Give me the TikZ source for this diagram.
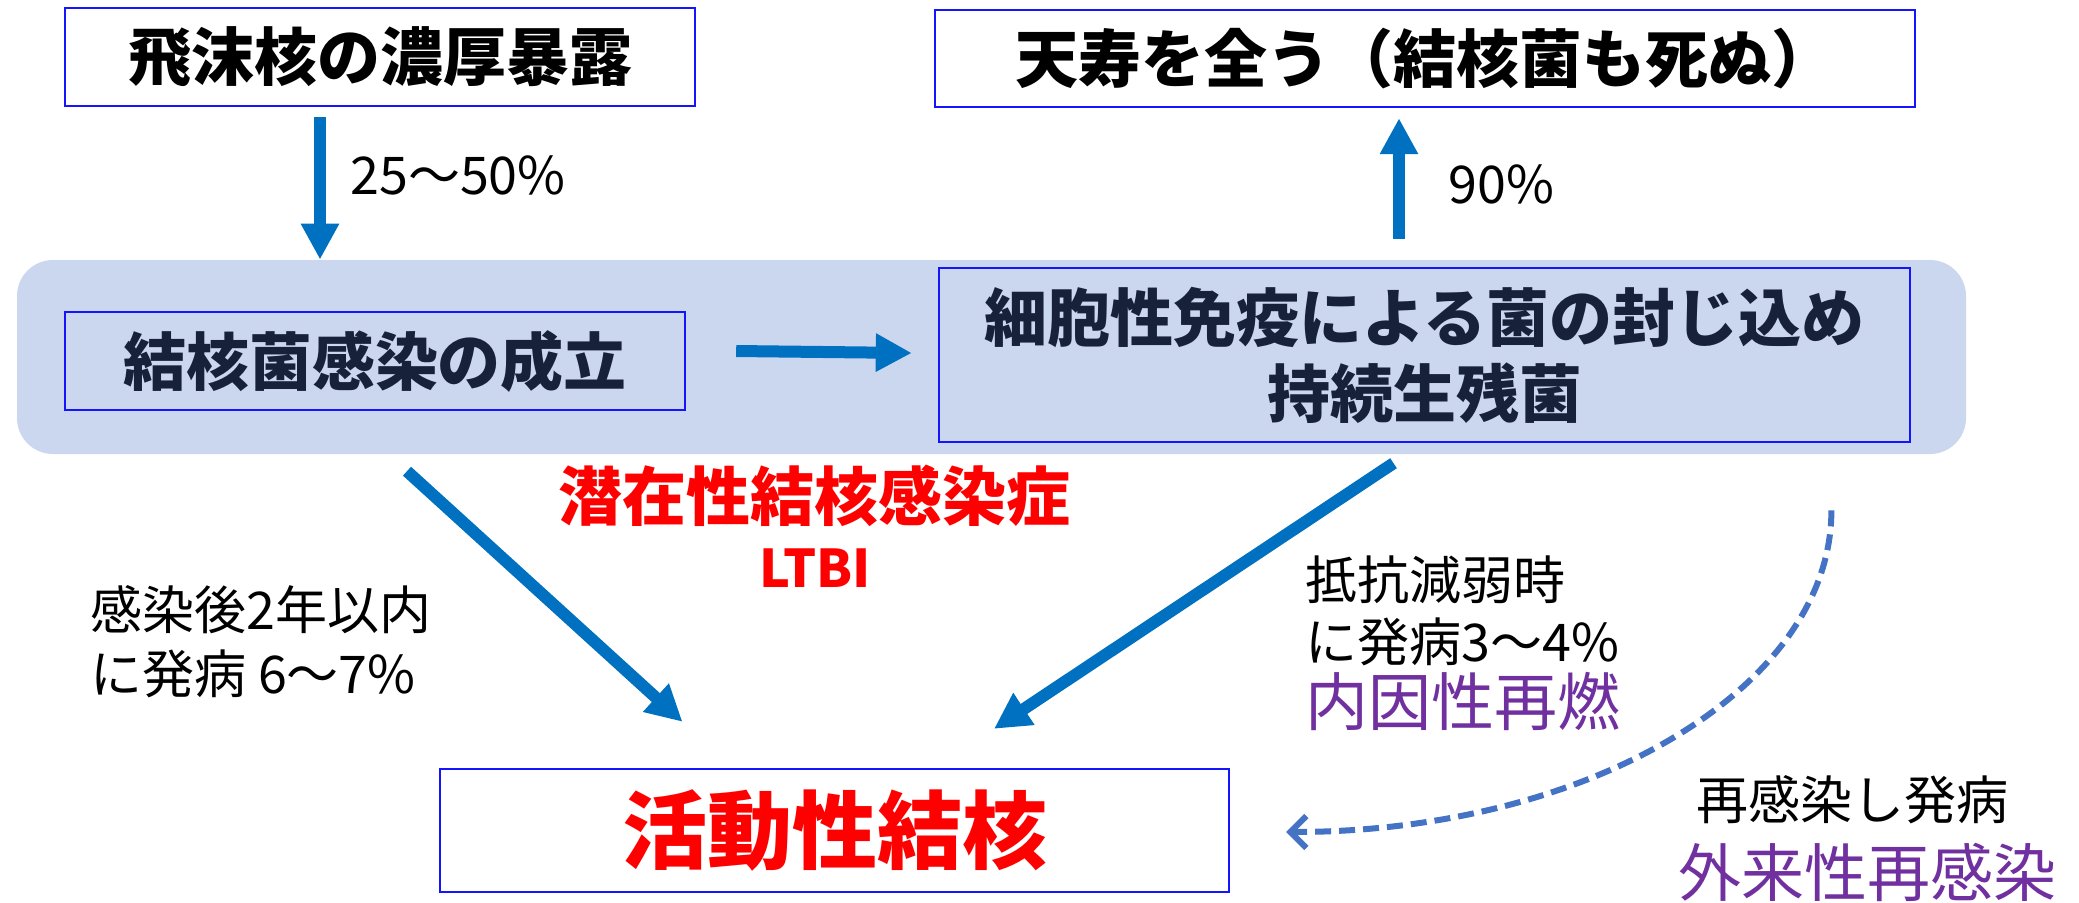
\documentclass[tikz,border=0pt]{standalone}
\usepackage{fontspec}
\setmainfont{Noto Sans CJK JP}
\usetikzlibrary{arrows.meta,calc}
\definecolor{boxblue}{HTML}{1414FF}
\definecolor{bandfill}{HTML}{CBD7EE}
\definecolor{arrblue}{HTML}{0070C0}
\definecolor{dashblue}{HTML}{4472C4}
\definecolor{navytext}{HTML}{18213A}
\definecolor{redtext}{HTML}{FF0000}
\definecolor{purpletext}{HTML}{7030A0}
\tikzset{
  flowbox/.style={draw=boxblue, line width=1.2pt, inner sep=0pt, align=center,
    font=\fontsize{31.5pt}{38pt}\selectfont\bfseries},
  lbl/.style={inner sep=0pt, align=left, font=\fontsize{26pt}{32pt}\selectfont},
  bigarr/.style={draw=arrblue, line width=6pt, -{Triangle[length=18pt,width=18pt]}},
  dasharr/.style={draw=dashblue, line width=3pt, dash pattern=on 8pt off 4pt,
    -{Straight Barb[length=8pt,width=16pt,line width=3pt]}},
}
\begin{document}
\begin{tikzpicture}[x=0.5pt,y=-0.5pt]
\useasboundingbox (0,0) rectangle (2079,902);
% band
\node[fill=bandfill, rounded corners=18pt, minimum width=974.5pt, minimum height=97pt, inner sep=0pt] (band) at (991.5,357) {};
% boxes
\node[flowbox, fill=white, minimum width=315pt, minimum height=49pt] (expo) at (380,57) {飛沫核の濃厚暴露};
\node[flowbox, fill=white, minimum width=490pt, minimum height=48.5pt] (death) at (1425,58.5) {天寿を全う（結核菌も死ぬ）};
\node[flowbox, text=navytext, minimum width=310pt, minimum height=49pt] (infect) at (375,361) {結核菌感染の成立};
\node[flowbox, text=navytext, minimum width=485.5pt, minimum height=87pt] (contain) at (1424.5,355) {細胞性免疫による菌の封じ込め\\持続生残菌};
\node[flowbox, minimum width=394.5pt, minimum height=61.5pt, text=redtext,
  font=\fontsize{42.5pt}{50pt}\selectfont\bfseries] (active) at (834.5,830.5) {活動性結核};
% texts
\node[inner sep=0pt, text=redtext, font=\fontsize{32pt}{38pt}\selectfont\bfseries] (ltbij) at (814,496) {潜在性結核感染症};
\node[inner sep=0pt, text=redtext, font=\fontsize{26pt}{32pt}\selectfont\bfseries] (ltbi) at (815,568) {LTBI};
\node[lbl, anchor=west] (p1) at (350,175) {25～50\%};
\node[lbl, anchor=west] (p2) at (1448,184) {90\%};
\node[lbl, anchor=west] (early) at (90,642) {感染後2年以内\\に発病 6～7\%};
\node[lbl, anchor=west, font=\fontsize{26pt}{31pt}\selectfont] (late) at (1305,611) {抵抗減弱時\\に発病3～4\%};
\node[inner sep=0pt, anchor=west, text=purpletext, font=\fontsize{31.5pt}{38pt}\selectfont] (endo) at (1305,701) {内因性再燃};
\node[lbl, anchor=center] (reinf) at (1852,800) {再感染し発病};
\node[inner sep=0pt, text=purpletext, font=\fontsize{31.5pt}{38pt}\selectfont] (exo) at (1867,872) {外来性再感染};
% arrows
\coordinate (a1s) at ($(expo.south)+(-60,10)$);
\draw[bigarr] (a1s) -- (a1s |- band.north);
\draw[bigarr] ($(band.north -| death.south)+(-26,-21)$) -- ($(death.south)+(-26,10)$);
\draw[bigarr] ($(infect.east)+(50,-10)$) -- ($(contain.west)+(-26,-2)$);
\draw[bigarr] ($(infect.south)+(32,60)$) -- ($(active.north)+(-152,-46)$);
\draw[bigarr] ($(contain.south)+(-31,20)$) -- ($(active.north)+(159.5,-39)$);
\coordinate (dstart) at ($(band.south east)+(-135,56)$);
\coordinate (dend) at ($(active.east)+(56,1.5)$);
\draw[dasharr] (dstart) .. controls ($(dstart)+(0,178)$) and ($(dend)+(302,0)$) .. (dend);
\end{tikzpicture}
\end{document}
